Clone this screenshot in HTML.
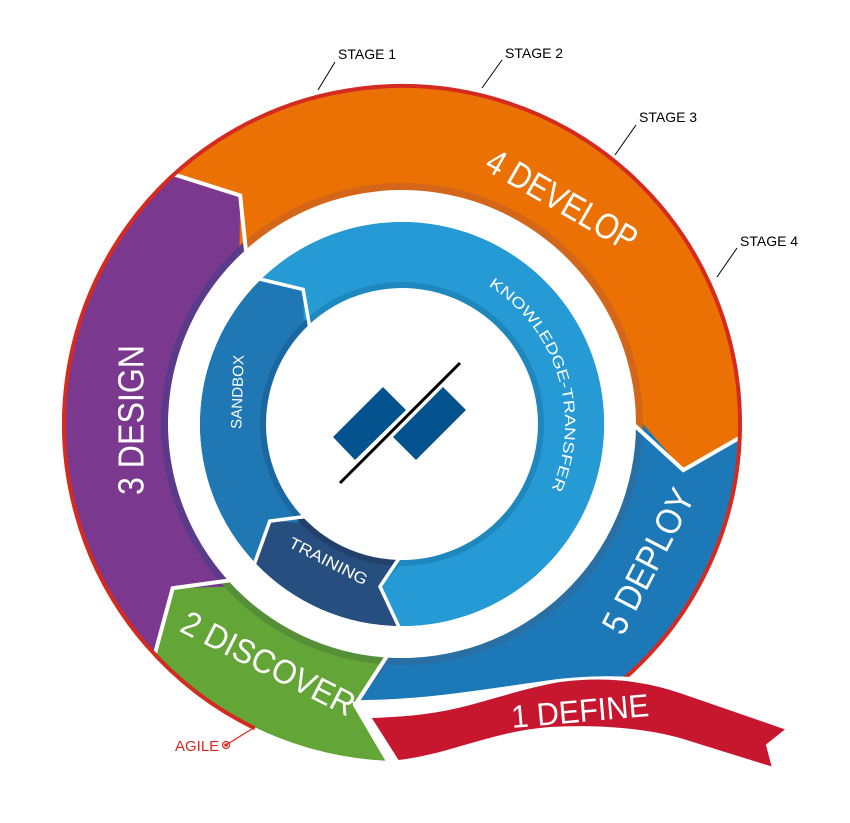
<!DOCTYPE html>
<html><head><meta charset="utf-8"><style>
html,body{margin:0;padding:0;background:#fff;}
svg{display:block;}
text{font-family:"Liberation Sans",sans-serif;}
</style></head><body>
<svg id="s" width="850" height="823" viewBox="0 0 850 823" xmlns="http://www.w3.org/2000/svg">
<g id="g"></g>
</svg>
<script>
var cx=402,cy=424,NS="http://www.w3.org/2000/svg",g=document.getElementById('g');
function P(r,t){var a=t*Math.PI/180;return [cx+r*Math.cos(a),cy+r*Math.sin(a)];}
function f(p){return p[0].toFixed(1)+" "+p[1].toFixed(1);}
function add(tag,at,txt){var e=document.createElementNS(NS,tag);for(var k in at)e.setAttribute(k,at[k]);if(txt)e.textContent=txt;g.appendChild(e);return e;}
function seg(ro,ri,S,E){
 var lg=(E.o-S.o)>180?1:0;
 return "M"+f(P(ro,S.o))+" A"+ro+" "+ro+" 0 "+lg+" 1 "+f(P(ro,E.o))+" L"+f(P(E.rm,E.m))+" L"+f(P(ri,E.i))+" A"+ri+" "+ri+" 0 "+lg+" 0 "+f(P(ri,S.i))+" L"+f(P(S.rm,S.m))+" Z";
}
function shift(B,d){return {o:B.o+d,m:B.m+d,rm:B.rm,i:B.i+d};}
// outer band boundaries
var B1={o:136.7,m:144.4,rm:282,i:137.5}, B2={o:227.3,m:234.7,rm:280,i:227.6},
    B3={o:362,m:369.3,rm:285,i:360}, B4={o:92,m:99.5,rm:285,i:93.5};
var RO=337,RI=234,ST=7;
function band(S,E,dark,main,ro,ri,st){
 add('path',{d:seg(ro,ri,S,E),fill:dark});
 add('path',{d:seg(ro,ri+st,S,E),fill:main});
}
band(B4,B1,"#558f37","#63a536",RO,RI,ST);
band(B1,B2,"#5c3a8a","#7a388e",RO,RI,ST);
band(B2,B3,"#d4661a","#ec7104",RO,RI,ST);
band(shift(B3,-360),B4,"#2a6fa3","#1d78b8",RO,RI,ST);
// inner ring
var I1={o:90.6,m:97.7,rm:164,i:90.9}, I2={o:136.3,m:143.7,rm:164,i:136}, I3={o:225.2,m:233.7,rm:167,i:226.2};
band(I1,I2,"#233f6c","#264e7f",202,136,6);
band(I2,I3,"#1b68a0","#1f77b4",202,136,6);
band(I3,shift(I1,360),"#1e88be","#259ad5",202,136,6);
// separators
[B1,B2,B3,B4].forEach(function(B){
 add('polyline',{points:f(P(RO+4,B.o))+" "+f(P(B.rm,B.m))+" "+f(P(RI-3,B.i)),fill:"none",stroke:"#fff","stroke-width":4,"stroke-linejoin":"miter"});
});
[I1,I2,I3].forEach(function(B){
 add('polyline',{points:f(P(205,B.o))+" "+f(P(B.rm,B.m))+" "+f(P(133,B.i)),fill:"none",stroke:"#fff","stroke-width":3.5});
});
// red outer arc
add('path',{d:"M"+f(P(338,115.8))+" A338 338 0 1 1 "+f(P(338,50)),fill:"none",stroke:"#d42a1f","stroke-width":4});
// white cover below ribbon
add('path',{d:"M352 702 L363 700 C420 700 480 690 537 682 C600 672 650 676 690 686 L850 720 L850 823 L396 823 L388 762 Z",fill:"#fff"});
// ribbon
add('path',{d:"M370 717 C410 716 440 712 470 704 C500 696 530 686 560 681 C600 676 640 678 683 693 L787 729 L767 745 L773 768 L683 740 C650 730 600 725 550 728 C510 731 480 742 440 753 C420 758 410 760 398 761 Z",fill:"#c6172f",stroke:"#fff","stroke-width":2});
// labels
function tx(x,y,rot,s,len,str){var e=add('text',{x:0,y:0,fill:"#fff","font-size":s,"text-anchor":"middle","dominant-baseline":"central",transform:"translate("+x+" "+y+") rotate("+rot+")",textLength:len,lengthAdjust:"spacingAndGlyphs"},str);}
tx(562,200,30,36,168,"4 DEVELOP");
tx(131,420,-90,36,150,"3 DESIGN");
tx(648,561,-62.5,36,158,"5 DEPLOY");
tx(268,664,27,34,190,"2 DISCOVER");
tx(580,711,-5,32,138,"1 DEFINE");
tx(238,392,-88,15,74,"SANDBOX");
tx(328,562,27,16,86,"TRAINING");
// curved knowledge transfer
var d=document.createElementNS(NS,'path');
d.setAttribute('id','kt');d.setAttribute('fill','none');
d.setAttribute('d',"M"+f(P(163,-58))+" A163 163 0 0 1 "+f(P(163,26)));
g.appendChild(d);
var t=add('text',{fill:"#fff","font-size":15});
var tp=document.createElementNS(NS,'textPath');tp.setAttribute('href','#kt');tp.setAttribute('textLength','232');tp.setAttribute('lengthAdjust','spacingAndGlyphs');tp.textContent="KNOWLEDGE-TRANSFER";t.appendChild(tp);
// logo
add('polygon',{points:"333,437 383,387 406,410 355,460",fill:"#04538f"});
add('polygon',{points:"393,437 443,387 466,410 416,460",fill:"#04538f"});
add('line',{x1:340,y1:483,x2:460,y2:363,stroke:"#000","stroke-width":3});
// stages
[[318,90,335,62,338,59,"STAGE 1"],[482,88,502,60,505,58,"STAGE 2"],[615,155,636,125,639,122,"STAGE 3"],[717,277,737,248,740,246,"STAGE 4"]].forEach(function(a){
 add('line',{x1:a[0],y1:a[1],x2:a[2],y2:a[3],stroke:"#000","stroke-width":1});
 add('text',{x:a[4],y:a[5],fill:"#000","font-size":14},a[6]);
});
// agile
add('line',{x1:226,y1:745,x2:255,y2:727,stroke:"#d42a1f","stroke-width":1.2});
add('circle',{cx:226,cy:745,r:3.5,fill:"none",stroke:"#d42a1f","stroke-width":1.2});
add('circle',{cx:226,cy:745,r:1.8,fill:"#d42a1f"});
add('text',{x:175,y:751,fill:"#d42a1f","font-size":15},"AGILE");
</script>
</body></html>
